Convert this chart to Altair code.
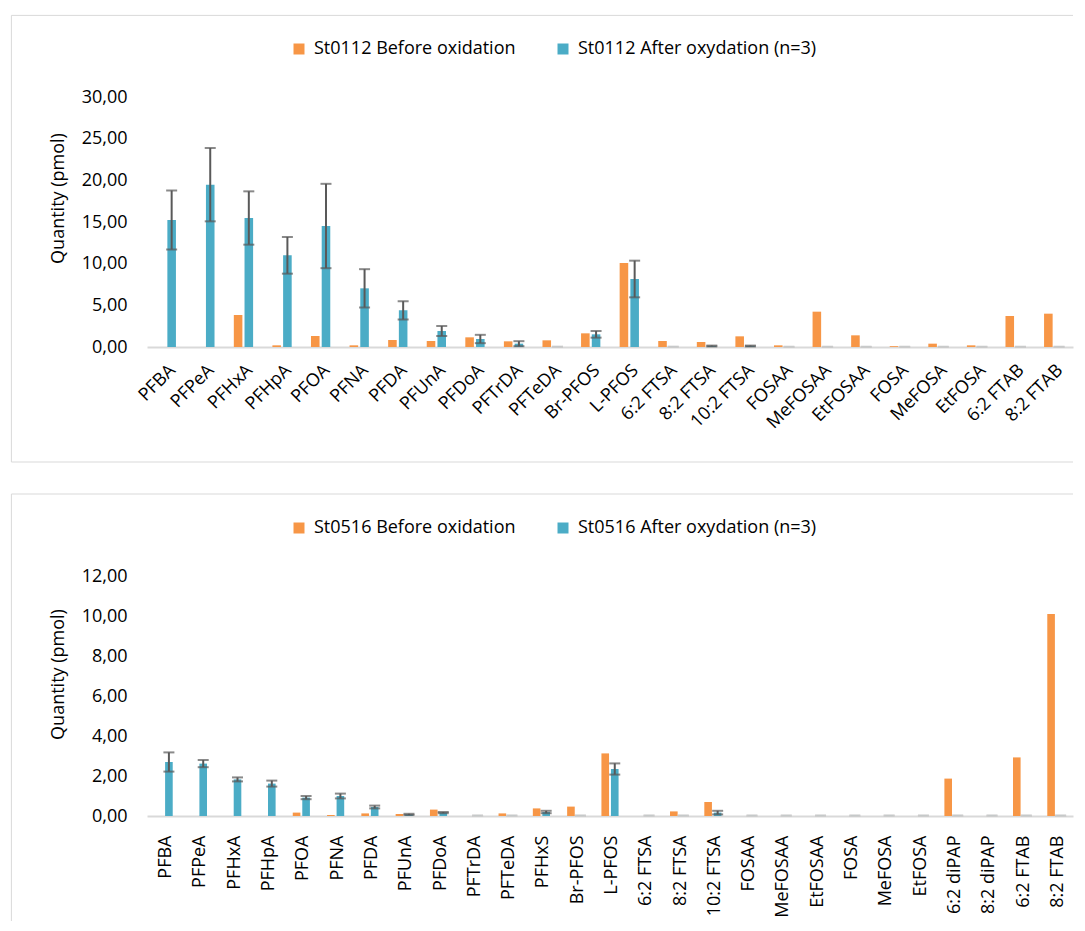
import altair as alt
import pandas as pd

# ---------------- data ----------------
cats_top = ["PFBA", "PFPeA", "PFHxA", "PFHpA", "PFOA", "PFNA", "PFDA", "PFUnA",
            "PFDoA", "PFTrDA", "PFTeDA", "Br-PFOS", "L-PFOS", "6:2 FTSA", "8:2 FTSA",
            "10:2 FTSA", "FOSAA", "MeFOSAA", "EtFOSAA", "FOSA", "MeFOSA", "EtFOSA",
            "6:2 FTAB", "8:2 FTAB"]
before_top = [0.0, 0.0, 3.84, 0.2, 1.32, 0.2, 0.84, 0.72, 1.16, 0.68, 0.8, 1.64,
              10.08, 0.72, 0.6, 1.28, 0.2, 4.24, 1.4, 0.1, 0.4, 0.2, 3.72, 4.0]
after_top = [15.24, 19.48, 15.48, 11.0, 14.52, 7.04, 4.4, 1.92, 0.96, 0.4, 0.03, 1.52,
             8.16, 0.03, 0.12, 0.12, 0.02, 0.02, 0.02, 0.02, 0.02, 0.02, 0.02, 0.02]
sd_top = [3.54, 4.4, 3.2, 2.2, 5.06, 2.3, 1.1, 0.6, 0.5, 0.3, 0.0, 0.4,
          2.2, 0.0, 0.05, 0.05, 0.0, 0.0, 0.0, 0.0, 0.0, 0.0, 0.0, 0.0]
labels_top = ["St0112 Before oxidation", "St0112 After oxydation (n=3)"]

cats_bot = ["PFBA", "PFPeA", "PFHxA", "PFHpA", "PFOA", "PFNA", "PFDA", "PFUnA",
            "PFDoA", "PFTrDA", "PFTeDA", "PFHxS", "Br-PFOS", "L-PFOS", "6:2 FTSA",
            "8:2 FTSA", "10:2 FTSA", "FOSAA", "MeFOSAA", "EtFOSAA", "FOSA", "MeFOSA",
            "EtFOSA", "6:2 diPAP", "8:2 diPAP", "6:2 FTAB", "8:2 FTAB"]
before_bot = [0.0, 0.0, 0.0, 0.0, 0.17, 0.05, 0.13, 0.1, 0.32, 0.0, 0.13, 0.38, 0.47,
              3.13, 0.0, 0.23, 0.7, 0.0, 0.0, 0.0, 0.0, 0.0, 0.0, 1.87, 0.0, 2.93, 10.1]
after_bot = [2.7, 2.62, 1.83, 1.62, 0.92, 1.0, 0.45, 0.08, 0.17, 0.02, 0.02, 0.2, 0.02,
             2.35, 0.02, 0.02, 0.17, 0.02, 0.02, 0.02, 0.02, 0.02, 0.02, 0.02, 0.02, 0.02, 0.02]
sd_bot = [0.48, 0.18, 0.1, 0.15, 0.08, 0.12, 0.07, 0.03, 0.03, 0.0, 0.0, 0.06, 0.0,
          0.28, 0.0, 0.0, 0.09, 0.0, 0.0, 0.0, 0.0, 0.0, 0.0, 0.0, 0.0, 0.0, 0.0]
labels_bot = ["St0516 Before oxidation", "St0516 After oxydation (n=3)"]

FONT = "Open Sans"
ORANGE = "#F79646"
BLUE = "#4BACC6"
ERR = "#595959"
BORDER = "#d9d9d9"
W = 926


def make_df(cats, before, after, sd, labs):
    rows = []
    for c, b, a, s in zip(cats, before, after, sd):
        rows.append({"cat": c, "series": labs[0], "value": b, "sd": 0.0})
        rows.append({"cat": c, "series": labs[1], "value": a, "sd": s})
    return pd.DataFrame(rows)


def panel(cats, before, after, sd, labs, ymax, ystep, h, top, title_y, border_bottom):
    df = make_df(cats, before, after, sd, labs)
    xscale = alt.Scale(domain=cats, paddingInner=0.5, paddingOuter=0.25)
    offscale = alt.Scale(domain=labs, paddingInner=0.2)
    if top:
        xaxis = alt.Axis(labelAngle=-45, labelAlign="right", labelBaseline="top",
                         labelPadding=14, labelFontSize=18, labelColor="#000000",
                         domainColor=BORDER, domainWidth=2, ticks=False, grid=False,
                         labelLimit=300, labelOverlap=False)
    else:
        xaxis = alt.Axis(labelAngle=-90, labelAlign="right", labelBaseline="middle",
                         labelPadding=19, labelOffset=2, labelFontSize=18,
                         labelColor="#000000", domainColor=BORDER, domainWidth=2,
                         ticks=False, grid=False, labelLimit=300, labelOverlap=False)
    x = alt.X("cat:N", scale=xscale, axis=xaxis, title=None)
    xo = alt.XOffset("series:N", scale=offscale)
    yscale = alt.Scale(domain=[0, ymax], nice=False)
    yaxis = alt.Axis(values=list(range(0, ymax + 1, ystep)),
                     labelExpr="replace(format(datum.value, '.2f'), '.', ',')",
                     labelOverlap=False, labelFlush=False,
                     domain=False, ticks=False, grid=False, labelPadding=20,
                     labelFontSize=18, labelColor="#000000",
                     title="Quantity (pmol)", titleFontSize=18, titleFontWeight="normal",
                     titleColor="#000000", titleX=-89, titleY=title_y,
                     titleAlign="center", titleBaseline="middle")

    def Y(field):
        return alt.Y(field, scale=yscale, axis=yaxis)

    base = alt.Chart(df)
    bars = base.mark_bar().encode(
        x=x, xOffset=xo, y=Y("value:Q"),
        color=alt.Color("series:N", scale=alt.Scale(domain=labs, range=[ORANGE, BLUE]),
                        legend=alt.Legend(orient="none", legendX=143, legendY=-57,
                                          direction="horizontal", title=None,
                                          symbolType="square", symbolSize=121,
                                          symbolStrokeWidth=0, labelFontSize=18,
                                          labelFont=FONT, labelColor="#000000",
                                          labelOffset=6, columnPadding=38,
                                          labelLimit=400, padding=0)),
    )
    err = base.transform_filter(
        f"datum.series == '{labs[1]}'"
    ).transform_calculate(
        lo="datum.value - datum.sd", hi="datum.value + datum.sd"
    )
    rule = err.transform_filter("datum.sd > 0").mark_rule(
        color=ERR, strokeWidth=2
    ).encode(x=x, xOffset=xo, y=Y("lo:Q"), y2="hi:Q")
    capcol = alt.condition("datum.sd > 0", alt.value(ERR), alt.value("#c8c8c8"))
    cap_lo = err.mark_tick(size=11, thickness=2).encode(
        x=x, xOffset=xo, y=Y("lo:Q"), color=capcol)
    cap_hi = err.mark_tick(size=11, thickness=2).encode(
        x=x, xOffset=xo, y=Y("hi:Q"), color=capcol)

    one = alt.Chart(pd.DataFrame({"k": [0]}))
    top_y = -81.6 if top else -82.0
    left_x = -135.6
    lines = [
        one.mark_rule(color=BORDER, strokeWidth=1).encode(
            x=alt.value(left_x), x2=alt.value(W), y=alt.value(top_y)),
        one.mark_rule(color=BORDER, strokeWidth=1).encode(
            x=alt.value(left_x), y=alt.value(top_y), y2=alt.value(border_bottom)),
    ]
    if top:
        lines.append(one.mark_rule(color=BORDER, strokeWidth=1).encode(
            x=alt.value(left_x), x2=alt.value(W), y=alt.value(border_bottom)))

    return alt.layer(bars, rule, cap_lo, cap_hi, *lines).properties(width=W, height=h)


top_chart = panel(cats_top, before_top, after_top, sd_top, labels_top,
                  30, 5, 250, True, 101, 365)
bot_chart = panel(cats_bot, before_bot, after_bot, sd_bot, labels_bot,
                  12, 2, 240, False, 98, 345)

chart = alt.vconcat(top_chart, bot_chart, spacing=30).resolve_scale(
    color="independent", x="independent", y="independent", xOffset="independent"
).properties(
    padding={"left": 2, "top": 6, "right": 0, "bottom": 0},
    background="white",
).configure(font=FONT).configure_view(strokeWidth=0)

chart.save("out.html", embed_options={"renderer": "svg", "actions": False})
